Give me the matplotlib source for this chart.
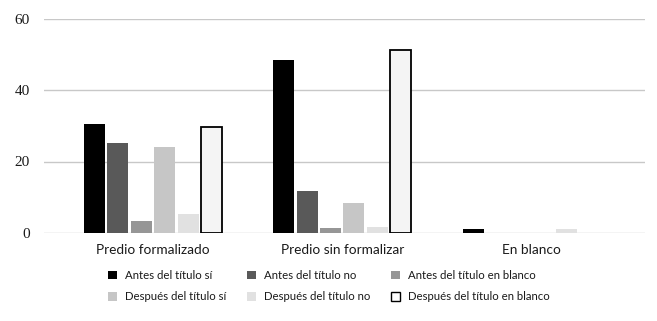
import numpy as np
import matplotlib.pyplot as plt
from matplotlib.patches import Patch

categories = ["Predio formalizado", "Predio sin formalizar", "En blanco"]
series_names = ["Antes del título sí", "Antes del título no", "Antes del título en blanco",
                "Después del título sí", "Después del título no", "Después del título en blanco"]
antes_si = [30.5, 48.5, 1.1]
antes_no = [25.2, 11.8, 0]
antes_blanco = [3.4, 1.4, 0]
despues_si = [24.1, 8.4, 0]
despues_no = [5.3, 1.7, 1.1]
despues_blanco = [29.7, 51.3, 0]
series = [antes_si, antes_no, antes_blanco, despues_si, despues_no, despues_blanco]

colors = ["#000000", "#595959", "#969696", "#c6c6c6", "#e1e1e1", "#f4f4f4"]
edges = [None, None, None, None, None, "#000000"]

fig = plt.figure(figsize=(6.57, 3.21), dpi=100)
ax = fig.add_axes([44/657, 1-233/321, 601/657, (233-18.5)/321])

x = np.arange(len(categories))
slot = 0.74 / 6
for i, vals in enumerate(series):
    off = (i - 2.5) * slot
    vals = np.array(vals, dtype=float)
    if edges[i]:
        # no outline for an empty bar
        vals = np.where(vals > 0, vals, np.nan)
        ax.bar(x + off, vals, width=slot*0.9, color=colors[i], edgecolor=edges[i], linewidth=1.3, zorder=3)
    else:
        ax.bar(x + off, vals, width=slot*0.9, color=colors[i], linewidth=0, zorder=3)

ax.set_xlim(-0.576, 2.60)
ax.set_ylim(0, 60)
ax.set_yticks([0, 20, 40, 60])
ax.yaxis.grid(True, color="#c8c8c8", linewidth=1.0, zorder=0)
ax.set_axisbelow(True)
for s in ax.spines.values():
    s.set_visible(False)
ax.tick_params(axis="both", length=0)
ax.tick_params(axis="y", pad=10)
ax.set_xticks(x)
ax.set_xticklabels(categories, fontsize=9.8, family="Lato", color="#1a1a1a")
ax.tick_params(axis="x", pad=8)
for t in ax.get_yticklabels():
    t.set_family("Liberation Serif")
    t.set_fontsize(11)
    t.set_color("#1a1a1a")

handles = [Patch(facecolor=c, edgecolor=c, linewidth=0) for c in colors]
handles[5] = Patch(facecolor="#ffffff", edgecolor="#000000", linewidth=1.0)
order = [0, 3, 1, 4, 2, 5]
leg = fig.legend([handles[k] for k in order], [series_names[k] for k in order],
                 ncol=3, loc="center", bbox_to_anchor=(329/657, 1-286/321),
                 frameon=False, prop={"family": "Lato", "size": 8.2},
                 handlelength=0.8, handleheight=0.8, handletextpad=0.7,
                 columnspacing=1.8, labelspacing=0.9)
for t in leg.get_texts():
    t.set_color("#1a1a1a")

fig.savefig("out.png", dpi=100)
